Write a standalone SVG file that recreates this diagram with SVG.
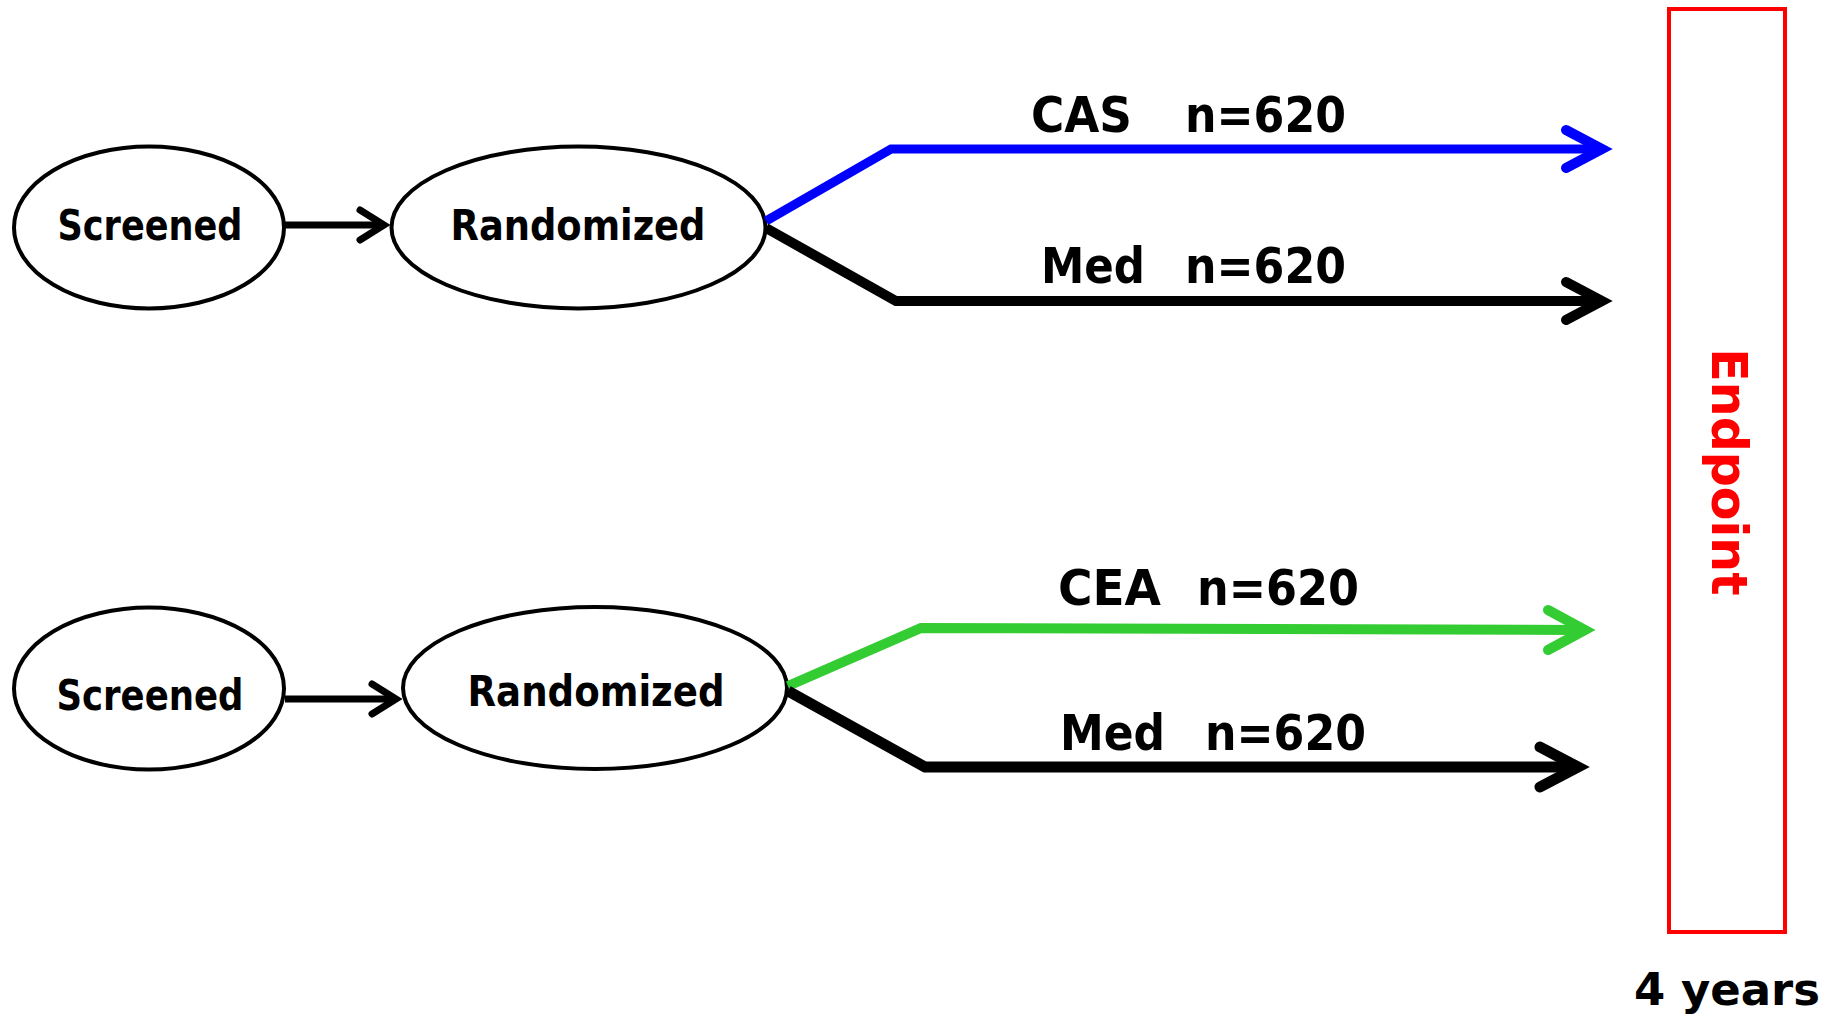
<svg xmlns="http://www.w3.org/2000/svg" width="1843" height="1016" viewBox="0 0 1843 1016">
  <style>
    .node ellipse { fill: #ffffff; stroke: #000000; stroke-width: 4; }
    .lbl { font-family: "DejaVu Sans Condensed", "DejaVu Sans", "Liberation Sans", sans-serif; font-weight: bold; font-stretch: condensed; fill: #000000; }
    .node-lbl { font-size: 42px; text-anchor: middle; }
    .arm-lbl { font-size: 49px; }
    .wire { fill: none; stroke-linejoin: miter; stroke-linecap: butt; }
    .head { fill: none; stroke-linejoin: miter; stroke-linecap: round; }
    .blk { stroke: #000000; }
    .blu { stroke: #0000ff; }
    .grn { stroke: #33cc33; }
    .wide { font-family: "DejaVu Sans", "Liberation Sans", sans-serif; font-weight: bold; }
  </style>

  <!-- upper trial -->
  <g id="screened-1" class="node">
    <ellipse cx="149" cy="227.5" rx="135" ry="81"/>
    <text class="lbl node-lbl" x="150" y="240" textLength="185" lengthAdjust="spacingAndGlyphs">Screened</text>
  </g>
  <g id="randomized-1" class="node">
    <ellipse cx="578.5" cy="227.5" rx="187" ry="81"/>
    <text class="lbl node-lbl" x="578" y="240" textLength="255" lengthAdjust="spacingAndGlyphs">Randomized</text>
  </g>

  <!-- lower trial -->
  <g id="screened-2" class="node">
    <ellipse cx="149" cy="688.5" rx="135" ry="81"/>
    <text class="lbl node-lbl" x="150" y="710" textLength="187" lengthAdjust="spacingAndGlyphs">Screened</text>
  </g>
  <g id="randomized-2" class="node">
    <ellipse cx="595" cy="688" rx="192" ry="81"/>
    <text class="lbl node-lbl" x="596" y="706" textLength="257" lengthAdjust="spacingAndGlyphs">Randomized</text>
  </g>

  <!-- endpoint bar -->
  <g id="endpoint">
    <rect x="1669" y="9" width="116" height="923" fill="none" stroke="#ff0000" stroke-width="4"/>
    <text class="wide" font-size="49" fill="#ff0000" text-anchor="middle" transform="translate(1712 472) rotate(90)">Endpoint</text>
  </g>
  <g id="duration">
    <text class="wide" font-size="44" fill="#000000" x="1634" y="1005" textLength="186" lengthAdjust="spacingAndGlyphs">4 years</text>
  </g>

  <!-- arm labels -->
  <g id="arm-labels" class="lbl arm-lbl">
    <text x="1031" y="132"><tspan x="1031" textLength="101" lengthAdjust="spacingAndGlyphs">CAS</tspan><tspan x="1185" textLength="161" lengthAdjust="spacingAndGlyphs">n=620</tspan></text>
    <text x="1041" y="283"><tspan x="1041" textLength="104" lengthAdjust="spacingAndGlyphs">Med</tspan><tspan x="1185" textLength="161" lengthAdjust="spacingAndGlyphs">n=620</tspan></text>
    <text x="1058" y="605"><tspan x="1058" textLength="103" lengthAdjust="spacingAndGlyphs">CEA</tspan><tspan x="1197" textLength="162" lengthAdjust="spacingAndGlyphs">n=620</tspan></text>
    <text x="1060" y="750"><tspan x="1060" textLength="105" lengthAdjust="spacingAndGlyphs">Med</tspan><tspan x="1205" textLength="161" lengthAdjust="spacingAndGlyphs">n=620</tspan></text>
  </g>

  <!-- connectors -->
  <g id="connectors">
    <!-- screened to randomized -->
    <line class="wire blk" x1="285" y1="225" x2="382" y2="225" stroke-width="7"/>
    <polyline class="head blk" points="360,210 384,225 360,240" stroke-width="7"/>
    <line class="wire blk" x1="285" y1="699" x2="394" y2="699" stroke-width="7"/>
    <polyline class="head blk" points="372,684 396,699 372,714" stroke-width="7"/>

    <!-- upper fork -->
    <polyline class="wire blu" points="766,221 891,149 1598,149" stroke-width="9"/>
    <polyline class="head blu" points="1566,130 1602,149 1566,168" stroke-width="10"/>
    <polyline class="wire blk" points="766,228 896,301 1598,301" stroke-width="10"/>
    <polyline class="head blk" points="1566,282 1602,301 1566,320" stroke-width="10"/>

    <!-- lower fork -->
    <polyline class="wire grn" points="788,686 921,628 1581,630" stroke-width="10"/>
    <polyline class="head grn" points="1548,610 1585,630 1548,650" stroke-width="10"/>
    <polyline class="wire blk" points="788,691 925,767 1574,767" stroke-width="11"/>
    <polyline class="head blk" points="1540,747 1578,767 1540,787" stroke-width="11"/>
  </g>
</svg>
